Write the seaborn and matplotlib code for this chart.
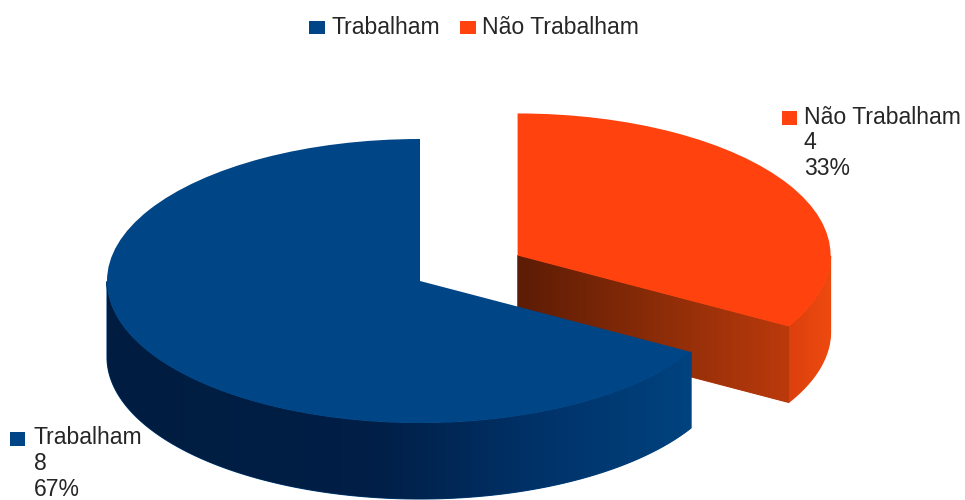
import numpy as np
import seaborn as sns
import matplotlib
matplotlib.use("Agg")
import matplotlib.pyplot as plt
from matplotlib.colors import LinearSegmentedColormap
from matplotlib.patches import Polygon, Rectangle

categories = ["Trabalham", "Não Trabalham"]
counts = [8, 4]
percent_labels = ["67%", "33%"]

sns.set_theme(style="white")
plt.rcParams["font.family"] = ["Liberation Sans", "DejaVu Sans"]

palette = sns.color_palette(["#004586", "#ff420e"])
TEXT_COLOR = "#262626"
FONT_SIZE = 16.6
W, H = 965, 500

# Disc geometry in pixels; the pie is drawn in unit-radius data coordinates.
CX, CY, RX, RY = 420, 281, 313, 142
DEPTH = 76 / RY
EXPLODE = [0, 0.36]

outer_wall_cmaps = [
    LinearSegmentedColormap.from_list("blue_wall", ["#001d41", "#001f47", "#00336a", "#00437f"]),
    LinearSegmentedColormap.from_list("orange_wall", ["#dc400d", "#ee4a10"]),
]
cut_face_cmap = LinearSegmentedColormap.from_list("orange_cut", ["#5c1c05", "#8a2c08", "#bb3a0c"])

fig = plt.figure(figsize=(W / 100, H / 100), dpi=100, facecolor="white")
ax = fig.add_axes([0, 0, 1, 1])
wedges, _ = ax.pie(counts, colors=palette, startangle=-30, counterclock=False,
                   explode=EXPLODE, radius=1, wedgeprops={"linewidth": 0})


def shaded_wall(xs, ys, cmap, z, power=1.0):
    """Fill the band hanging DEPTH below an edge with a left-to-right gradient."""
    outline = np.vstack([np.column_stack([xs, ys]),
                         np.column_stack([xs[::-1], ys[::-1] - DEPTH])])
    # A solid backing under the gradient closes the seams between neighbouring faces.
    clip = Polygon(outline, closed=True, transform=ax.transData, facecolor=cmap(0.95),
                   edgecolor=cmap(0.95), linewidth=0.8, zorder=z - 0.5)
    ax.add_patch(clip)
    ramp = np.linspace(0, 1, 512)[None, :] ** power
    img = ax.imshow(ramp, cmap=cmap, vmin=0, vmax=1, aspect="auto", interpolation="bilinear",
                    extent=(xs.min(), xs.max(), ys.min() - DEPTH, ys.max()), zorder=z)
    img.set_clip_path(clip)


# Extruded sides, back slice first so the front slice covers it.
for idx, z, power in [(1, 1, 1.0), (0, 3, 1.4)]:
    wedge = wedges[idx]
    cx, cy = wedge.center
    lo, hi = sorted((wedge.theta1, wedge.theta2))
    angles = np.radians(np.linspace(lo, hi, 600))
    angles = angles[np.sin(angles) <= 0]
    shaded_wall(cx + np.cos(angles), cy + np.sin(angles), outer_wall_cmaps[idx], z, power)
    wedge.set_zorder(z + 1)

# The straight cut of the exploded slice, seen from the front.
cut = wedges[1]
cut_angle = np.radians(min(cut.theta1, cut.theta2))
s = np.array([0.0, 1.0])
shaded_wall(cut.center[0] + s * np.cos(cut_angle), cut.center[1] + s * np.sin(cut_angle),
            cut_face_cmap, 1)

ax.set_aspect("auto")
ax.set_xlim(-CX / RX, (W - CX) / RX)
ax.set_ylim((CY - H) / RY, CY / RY)
ax.axis("off")


def pixel(x, y):
    return x / W, 1 - y / H


def swatch(x0, y0, x1, y1, color):
    fx, fy = pixel(x0, y1)
    fig.add_artist(Rectangle((fx, fy), (x1 - x0) / W, (y1 - y0) / H, transform=fig.transFigure,
                             facecolor=color, edgecolor="none"))


# Top legend.
swatch(309, 21, 325, 34, palette[0])
swatch(460, 21, 476, 34, palette[1])
for x, name in zip([332, 482], categories):
    fig.text(*pixel(x, 28), name, fontsize=FONT_SIZE, color=TEXT_COLOR, va="center", ha="left")

# Slice labels.
label_pos = [(34, 438), (804, 117)]
swatches = [(10, 432, 25, 446), (782, 111, 797, 125)]
for i, name in enumerate(categories):
    swatch(*swatches[i], palette[i])
    lx, ly = label_pos[i]
    for k, line in enumerate([name, str(counts[i]), percent_labels[i]]):
        fig.text(*pixel(lx, ly + k * 25.5), line, fontsize=FONT_SIZE, color=TEXT_COLOR,
                 va="center", ha="left")

fig.savefig("out.png", dpi=100, facecolor="white")
